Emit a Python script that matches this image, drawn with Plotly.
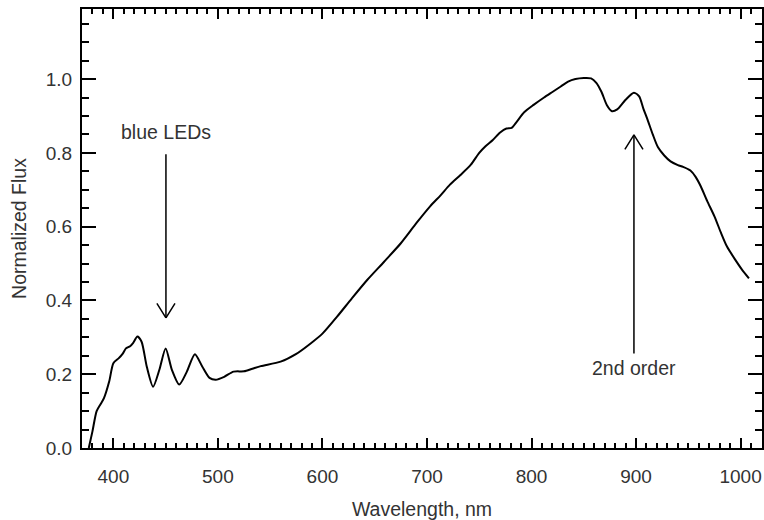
import plotly.graph_objects as go

# Spectrum data
wavelength = [376.5, 380, 384, 388, 391, 396, 400, 405, 409, 412, 416, 419, 423, 427,
              432, 438, 444, 450, 456, 463, 470, 478, 485, 492, 498, 506, 515, 525,
              533, 541, 560, 575, 589, 600, 614, 628, 643, 659, 675, 690, 703, 713,
              722, 732, 742, 750, 756, 763, 770, 776, 781, 786, 793, 802, 812, 820,
              828, 835, 842, 850, 857, 862, 867, 872, 877, 882, 890, 898, 903, 907,
              911, 916, 921, 927, 933, 940, 945, 952, 957, 962, 968, 975, 981, 987,
              995, 1001, 1008]
flux = [0.0, 0.045, 0.10, 0.12, 0.135, 0.18, 0.23, 0.243, 0.256, 0.27, 0.276, 0.285,
        0.302, 0.288, 0.22, 0.166, 0.212, 0.27, 0.212, 0.172, 0.205, 0.254, 0.221,
        0.19, 0.185, 0.193, 0.207, 0.208, 0.215, 0.222, 0.234, 0.255, 0.284, 0.31,
        0.356, 0.405, 0.456, 0.505, 0.555, 0.61, 0.655, 0.685, 0.714, 0.74, 0.768,
        0.80, 0.818, 0.835, 0.855, 0.866, 0.868, 0.885, 0.91, 0.93, 0.95, 0.965, 0.98,
        0.993, 1.0, 1.003, 1.002, 0.99, 0.965, 0.93, 0.913, 0.918, 0.944, 0.963,
        0.953, 0.92, 0.89, 0.85, 0.815, 0.793, 0.777, 0.767, 0.762, 0.752, 0.735,
        0.709, 0.67, 0.628, 0.585, 0.546, 0.51, 0.485, 0.46]

x_ticks = [400, 500, 600, 700, 800, 900, 1000]
y_ticks = [0.0, 0.2, 0.4, 0.6, 0.8, 1.0]
y_tick_labels = ["0.0", "0.2", "0.4", "0.6", "0.8", "1.0"]

# Annotations: (label, arrow tip x, tip y, tail y, text y)
notes = [
    ("blue LEDs", 450.3, 0.353, 0.80, 0.857),
    ("2nd order", 898.0, 0.849, 0.252, 0.216),
]

FONT = "Liberation Sans, Arial, Helvetica, sans-serif"
TXT = "#333333"

fig = go.Figure()
fig.add_trace(go.Scatter(
    x=wavelength, y=flux, mode="lines",
    line=dict(color="black", width=2, shape="spline", smoothing=0.7),
    hoverinfo="skip", showlegend=False,
))

for label, tx, ty, taily, texty in notes:
    # shaft
    fig.add_annotation(
        x=tx, y=ty, ax=tx, ay=taily, xref="x", yref="y", axref="x", ayref="y",
        text="", showarrow=True, arrowhead=0, arrowwidth=1.5,
        arrowcolor="black", standoff=0,
    )
    # open V arrowhead: two thin arms from the tip (pixel offsets)
    direction = -1 if taily > ty else 1  # arms go back towards the tail
    for side in (-1, 1):
        fig.add_annotation(
            x=tx, y=ty, xref="x", yref="y", ax=side * 10, ay=direction * 16,
            text="", showarrow=True, arrowhead=0, arrowwidth=1.5,
            arrowcolor="black", standoff=0,
        )
    fig.add_annotation(
        x=tx, y=texty, xref="x", yref="y", text=label, showarrow=False,
        font=dict(family=FONT, size=19.5, color=TXT),
    )

axis_common = dict(
    showline=True, linecolor="black", linewidth=2, mirror="allticks",
    ticks="inside", tickcolor="black", tickwidth=1.5,
    showgrid=False, zeroline=False, automargin=False,
    tickfont=dict(family=FONT, size=19, color=TXT),
)

fig.update_xaxes(
    range=[370, 1020.5], tickvals=x_ticks, ticklen=10,
    ticklabelstandoff=10,
    minor=dict(dtick=10, tick0=0, ticks="inside", ticklen=5, tickcolor="black", tickwidth=1.5),
    title=dict(text="Wavelength, nm", font=dict(family=FONT, size=19.5, color=TXT), standoff=18),
    **axis_common,
)
fig.update_yaxes(
    range=[0, 1.19], tickvals=y_ticks, ticktext=y_tick_labels, ticklen=14,
    ticklabelstandoff=4,
    minor=dict(dtick=0.05, tick0=0, ticks="inside", ticklen=7, tickcolor="black", tickwidth=1.5),
    title=dict(text="Normalized Flux", font=dict(family=FONT, size=19.5, color=TXT), standoff=14),
    **axis_common,
)

fig.update_layout(
    width=764, height=520,
    margin=dict(l=82, r=2, t=9, b=72),
    paper_bgcolor="white", plot_bgcolor="white",
    showlegend=False,
)

fig.write_html("out.html", config={"displayModeBar": False},
               post_script="document.body.style.margin='0';")
